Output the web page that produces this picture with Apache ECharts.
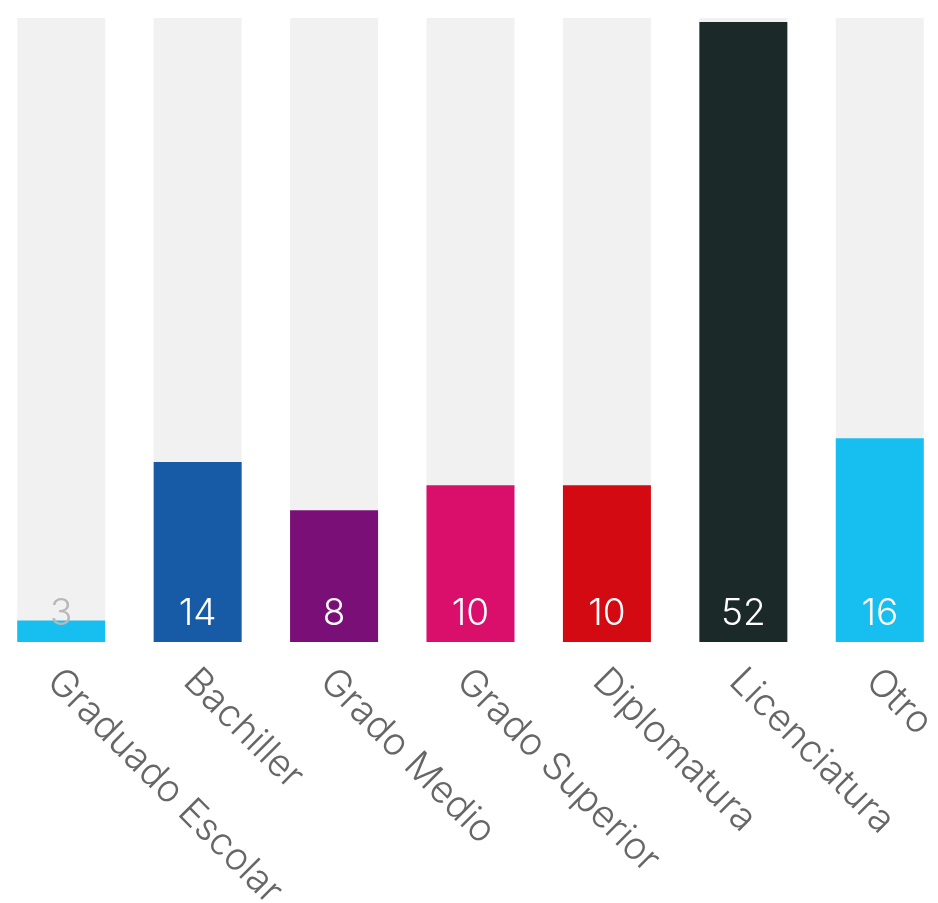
<!DOCTYPE html>
<html>
<head>
<meta charset="utf-8">
<script src="https://cdn.jsdelivr.net/npm/echarts@6/dist/echarts.min.js"></script>
<style>html,body{margin:0;padding:0;background:#fff;overflow:hidden}#c{position:absolute;left:-7px;top:0;width:955px;height:903px}</style>
</head>
<body>
<div id="c"></div>
<script>
const categories = ['Graduado Escolar', 'Bachiller', 'Grado Medio', 'Grado Superior', 'Diplomatura', 'Licenciatura', 'Otro'];
const barValues = [1.8, 15.1, 11.05, 13.15, 13.15, 52, 17.1];
const valueLabels = ['3', '14', '8', '10', '10', '52', '16'];
const barColors = ['#17bff0', '#175aa6', '#7b0f78', '#da0f6c', '#d40a12', '#1c2929', '#17bff0'];
const labelColors = ['#b8b8b8', '#ffffff', '#ffffff', '#ffffff', '#ffffff', '#ffffff', '#ffffff'];
const yMax = 52.34;

const chart = echarts.init(document.getElementById('c'));
chart.setOption({
  animation: false,
  grid: { left: 0, right: 0, top: 18, bottom: 261, outerBoundsMode: 'none', containLabel: false },
  xAxis: {
    type: 'category',
    data: categories,
    axisLine: { show: false },
    axisTick: { show: false },
    axisLabel: {
      rotate: -45,
      interval: 0,
      margin: 14,
      padding: [0, 0, 0, 8],
      verticalAlign: 'top',
      color: '#666666',
      fontSize: 38,
      fontWeight: 300,
      fontFamily: 'Inter'
    }
  },
  yAxis: { type: 'value', min: 0, max: yMax, show: false },
  series: [{
    type: 'bar',
    barWidth: '64.5%',
    showBackground: true,
    backgroundStyle: { color: '#f1f1f1' },
    data: barValues.map((v, i) => ({
      value: v,
      itemStyle: { color: barColors[i] },
      label: { color: labelColors[i] }
    })),
    label: {
      show: true,
      position: 'insideBottom',
      distance: 10,
      fontSize: 37,
      fontWeight: 300,
      fontFamily: 'Inter',
      formatter: p => valueLabels[p.dataIndex]
    }
  }]
});
</script>
</body>
</html>
